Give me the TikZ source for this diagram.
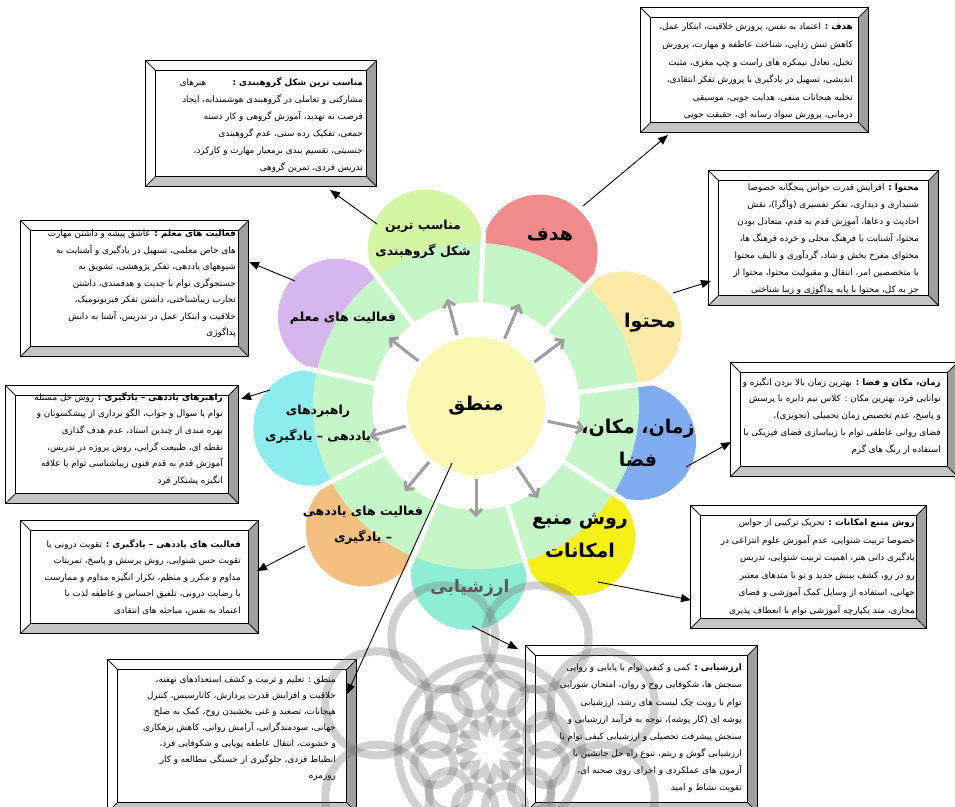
\documentclass[tikz,border=0pt]{standalone}
\usepackage{fontspec}
\usetikzlibrary{arrows.meta,calc}
\TeXXeTstate=1
\newfontfamily\fa[Script=Arabic]{DejaVu Sans}
\newcommand\RL[1]{\beginR #1\endR}
\definecolor{ringg}{RGB}{196,246,200}
\definecolor{cA}{RGB}{242,140,140}
\definecolor{cB}{RGB}{252,234,168}
\definecolor{cC}{RGB}{128,172,242}
\definecolor{cD}{RGB}{246,240,20}
\definecolor{cE}{RGB}{142,238,212}
\definecolor{cF}{RGB}{243,192,128}
\definecolor{cG}{RGB}{140,236,238}
\definecolor{cH}{RGB}{214,182,236}
\definecolor{cI}{RGB}{210,246,162}
\definecolor{cM}{RGB}{250,248,178}
\definecolor{bevR}{RGB}{160,160,160}
\definecolor{bevB}{RGB}{196,196,196}
\def\bw{10}
\newcommand\bevelbox[5]{%
  \node[draw=none, inner sep=0, minimum width=#4pt, minimum height=#5pt] (#1) at (#2,#3) {};
  \coordinate (#1i1) at ($(#1.north west)+(\bw,\bw)$);
  \coordinate (#1i2) at ($(#1.north east)+(-\bw,\bw)$);
  \coordinate (#1i3) at ($(#1.south east)+(-\bw,-\bw)$);
  \coordinate (#1i4) at ($(#1.south west)+(\bw,-\bw)$);
  \fill[white] (#1.north west) rectangle (#1.south east);
  \fill[bevR] (#1.north east) -- (#1.south east) -- (#1i3) -- (#1i2) -- cycle;
  \fill[bevB] (#1.south west) -- (#1i4) -- (#1i3) -- (#1.south east) -- cycle;
  \draw[bline] (#1.north west) rectangle (#1.south east);
  \draw[bline] (#1i1) rectangle (#1i3);
  \draw[bline] (#1.north west) -- (#1i1) (#1.north east) -- (#1i2)
     (#1.south east) -- (#1i3) (#1.south west) -- (#1i4);
}
\begin{document}
\begin{tikzpicture}[x=1pt,y=-1pt,
  bline/.style={draw=black, line width=0.8pt},
  garrow/.style={draw=black!38, line width=3pt, -{Straight Barb[length=6pt,width=12pt]}},
  blk/.style={draw=black, line width=0.9pt, -{Triangle[length=10pt,width=8pt]}},
  bigl/.style={font=\fa\bfseries\fontsize{19}{33}\selectfont, align=center, inner sep=0},
  smalll/.style={font=\fa\bfseries\fontsize{12.5}{26}\selectfont, align=center, inner sep=0},
  btext/.style={anchor=north east, align=right, inner sep=0},
  fs/.style={font=\fa\fontsize{8.8}{#1}\selectfont}
]
\useasboundingbox (0,0) rectangle (955,806);
\fill[white] (0,0) rectangle (955,806);

% ---------- flower ----------
\coordinate (C) at (476,406);
\foreach \k/\col in {0/cA,1/cB,2/cC,3/cD,4/cE,5/cF,6/cG,7/cH,8/cI}{
  \path (C) ++({67.5-40*\k}:166pt) coordinate (P\k);
  \fill[\col] (P\k) circle[radius=58pt];
}
\fill[ringg] (C) circle[radius=163pt];
\foreach \g in {87.5,47.5,7.5,-32.5,-72.5,-112.5,-152.5,167.5,127.5}
  \draw[white, line width=5pt] ($(C)+(\g:98pt)$) -- ($(C)+(\g:200pt)$);
\fill[white] (C) circle[radius=104pt];
\node[circle, fill=cM, minimum size=138pt, inner sep=0,
      font=\fa\bfseries\fontsize{19}{22}\selectfont] (M) at (C) {\RL{منطق}};
\foreach \a in {67,37,-12,-56,-90,-130,-164,142,105}
  \draw[garrow, shorten <=4pt] (M.\a) -- ($(C)+(\a:111pt)$);

% ---------- boxes ----------
\bevelbox{A}{754.5}{70}{227}{124}
\bevelbox{B}{823.5}{238}{229}{134}
\bevelbox{Cb}{844}{419.5}{226}{113}
\bevelbox{D}{808.5}{567}{235}{122}
\bevelbox{E}{641.5}{729}{231}{166}
\bevelbox{F}{232}{736}{248}{152}
\bevelbox{G}{139.5}{577}{237}{112}
\bevelbox{H}{122}{444.5}{232}{117}
\bevelbox{I}{134.5}{288.5}{227}{135}
\bevelbox{J}{261}{123.5}{230}{125}

% ---------- watermark ----------
\begin{scope}[shift={(490,750)}, opacity=0.33, draw=black!55, line width=8pt]
  \foreach \i in {0,...,11}{
    \draw ({\i*30}:34pt) -- ({\i*30+15}:20pt) -- ({\i*30+30}:34pt);
    \draw ({\i*30+15}:58pt) circle[radius=20pt];
  }
  \foreach \i in {0,...,7}
    \draw ({\i*45+22.5}:122pt) circle[radius=52pt];
  \draw (0,0) circle[radius=92pt];
\end{scope}

% ---------- petal labels ----------
\node[bigl] (LA) at (550,235) {\RL{هدف}};
\node[bigl] (LB) at (650,323) {\RL{محتوا}};
\node[bigl] (LC) at (638,443) {\RL{زمان، مکان،}\\\RL{فضا}};
\node[bigl] (LD) at (580,536) {\RL{روش منبع}\\\RL{امکانات}};
\node[bigl, text=black!65, font=\fa\bfseries\fontsize{17}{20}\selectfont] (LE) at (470,588) {\RL{ارزشیابی}};
\node[smalll] (LF) at (363,525) {\RL{فعالیت های یاددهی}\\\RL{– یادگیری}};
\node[smalll] (LG) at (318,424) {\RL{راهبردهای}\\\RL{یاددهی – یادگیری}};
\node[smalll] (LH) at (343,318) {\RL{فعالیت های معلم}};
\node[smalll] (LI) at (423,239) {\RL{مناسب ترین}\\\RL{شکل گروهبندی}};

% ---------- box texts ----------
\node[btext, fs=17.6] (TA) at (853,23) {%
\RL{{\bfseries هدف :} اعتماد به نفس، پرورش خلاقیت، ابتکار عمل،}\\
\RL{کاهش تنش زدایی، شناخت عاطفه و مهارت، پرورش}\\
\RL{تخیل، تعادل نیمکره های راست و چپ مغزی، مثبت}\\
\RL{اندیشی، تسهیل در یادگیری با پرورش تفکر انتقادی،}\\
\RL{تخلیه هیجانات منفی، هدایت جویی، موسیقی}\\
\RL{درمانی، پرورش سواد رسانه ای، حقیقت جویی}};

\node[btext, fs=17] (TB) at (919,182) {%
\RL{{\bfseries محتوا :} افزایش قدرت حواس پنجگانه خصوصا}\\
\RL{شنیداری و دیداری، تفکر تفسیری (واگرا)، نقش}\\
\RL{احادیث و دعاها، آموزش قدم به قدم، متعادل بودن}\\
\RL{محتوا، آشنایت با فرهنگ محلی و خرده فرهنگ ها،}\\
\RL{محتوای مفرح بخش و شاد، گردآوری و تالیف محتوا}\\
\RL{با متخصصین امر، انتقال و مقبولیت محتوا، محتوا از}\\
\RL{جز به کل، محتوا با پایه پداگوژی و زیبا شناختی}};

\node[btext, fs=16.75] (TC) at (941,377) {%
\RL{{\bfseries زمان، مکان و فضا :} بهترین زمان بالا بردن انگیزه و}\\
\RL{توانایی فرد، بهترین مکان : کلاس نیم دایره با پرسش}\\
\RL{و پاسخ، عدم تخصیص زمان تحمیلی (تجویزی)،}\\
\RL{فضای روانی عاطفی توام با زیباسازی فضای فیزیکی با}\\
\RL{استفاده از رنگ های گرم}};

\node[btext, fs=17.5] (TD) at (915,519) {%
\RL{{\bfseries روش منبع امکانات :} تحریک ترکیبی از حواس}\\
\RL{خصوصا تربیت شنوایی، عدم آموزش علوم انتزاعی در}\\
\RL{یادگیری ذاتی هنر، اهمیت تربیت شنوایی، تدریس}\\
\RL{رو در رو، کشف بینش جدید و نو با متدهای معتبر}\\
\RL{جهانی، استفاده از وسایل کمک آموزشی و فضای}\\
\RL{مجازی، متد یکپارچه آموزشی توام با انعطاف پذیری}};

\node[btext, fs=17.1] (TE) at (742,664) {%
\RL{{\bfseries ارزشیابی :} کمی و کیفی توام با پایایی و روایی}\\
\RL{سنجش ها، شکوفایی روح و روان، امتحان شورایی}\\
\RL{توام با رویت چک لیست های رشد، ارزشیابی}\\
\RL{پوشه ای (کار پوشه)، توجه به فرآیند ارزشیابی و}\\
\RL{سنجش پیشرفت تحصیلی و ارزشیابی کیفی توام با}\\
\RL{ارزشیابی گوش و ریتم، تنوع راه حل جانشین با}\\
\RL{آزمون های عملکردی و اجرای روی صحنه ای،}\\
\RL{تقویت نشاط و امید}};

\node[btext, fs=16] (TF) at (336,676) {%
\RL{منطق : تعلیم و تربیت و کشف استعدادهای نهفته،}\\
\RL{خلاقیت و افزایش قدرت پردازش، کاتارسیس، کنترل}\\
\RL{هیجانات، تصعید و غنی بخشیدن روح، کمک به صلح}\\
\RL{جهانی، سودمندگرایی، آرامش روانی، کاهش بزهکاری}\\
\RL{و خشونت، انتقال عاطفه پویایی و شکوفایی فرد،}\\
\RL{انظباط فردی، جلوگیری از خستگی مطالعه و کار}\\
\RL{روزمره}};

\node[btext, fs=16.5] (TG) at (241,539) {%
\RL{{\bfseries فعالیت های یاددهی – یادگیری :} تقویت درونی با}\\
\RL{تقویت حس شنوایی، روش پرسش و پاسخ، تمرینات}\\
\RL{مداوم و مکرر و منظم، تکرار انگیزه مداوم و ممارست}\\
\RL{با رضایت درونی، تلفیق احساس و عاطفه لذت با}\\
\RL{اعتماد به نفس، مباحثه های انتقادی}};

\node[btext, fs=16.6] (TH) at (223,392) {%
\RL{{\bfseries راهبرهای یاددهی – یادگیری :} روش حل مسئله}\\
\RL{توام با سوال و جواب، الگو برداری از پیشکسوتان و}\\
\RL{بهره مندی از چندین استاد، عدم هدف گذاری}\\
\RL{نقطه ای، طبیعت گرایی، روش پروژه در تدریس،}\\
\RL{آموزش قدم به قدم فنون زیباشناسی توام با علاقه}\\
\RL{انگیزه پشتکار فرد}};

\node[btext, fs=16.5] (TI) at (236,230) {%
\RL{{\bfseries فعالیت های معلم :} عاشق پیشه و داشتن مهارت}\\
\RL{های خاص معلمی، تسهیل در یادگیری و آشنایت به}\\
\RL{شیوههای یاددهی، تفکر پژوهشی، تشویق به}\\
\RL{جستجوگری توام با جدیت و هدفمندی، داشتن}\\
\RL{تجارب زیباشناختی، داشتن تفکر فیزیونومیک،}\\
\RL{خلاقیت و ابتکار عمل در تدریس، آشنا به دانش}\\
\RL{پداگوژی}};

\node[btext, fs=17] (TJ) at (363,77) {%
\RL{{\bfseries مناسب ترین شکل گروهبندی :}\hspace{3em}هنرهای}\\
\RL{مشارکتی و تعاملی در گروهبندی هوشمندانه، ایجاد}\\
\RL{فرصت نه تهدید، آموزش گروهی و کار دسته}\\
\RL{جمعی، تفکیک رده سنی، عدم گروهبندی}\\
\RL{جنسیتی، تقسیم بندی برمعیار مهارت و کارکرد،}\\
\RL{تدریس فردی، تمرین گروهی}};

% ---------- connectors ----------
\coordinate (sA) at (583,206); \coordinate (tA) at (668,135);
\coordinate (sB) at (673,293); \coordinate (tB) at (711,281);
\coordinate (sC) at (686,467); \coordinate (tC) at (731,442);
\coordinate (sD) at (598,582); \coordinate (tD) at (691,600);
\coordinate (sE) at (472,626); \coordinate (tE) at (518,649);
\coordinate (sF) at (452,463); \coordinate (tF) at (347,694);
\coordinate (sG) at (305,546); \coordinate (tG) at (257,571);
\coordinate (sH) at (270,390); \coordinate (tH) at (241,399);
\coordinate (sI) at (295,281); \coordinate (tI) at (249,262);
\coordinate (sJ) at (377,224); \coordinate (tJ) at (330,190);
\foreach \n in {A,B,C,D,E,F,G,H,I,J}
  \draw[blk] (s\n) -- (t\n);
\end{tikzpicture}
\end{document}
